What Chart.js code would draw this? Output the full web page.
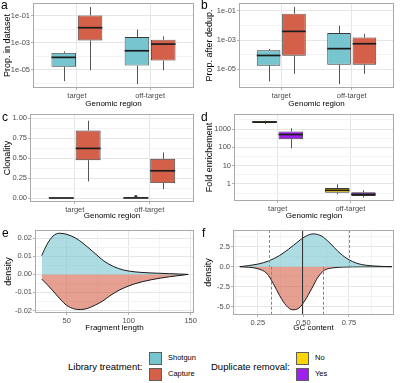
<!DOCTYPE html>
<html><head><meta charset="utf-8">
<script src="https://cdn.jsdelivr.net/npm/chart.js@4"></script>
<style>
html,body{margin:0;padding:0;background:#fff;}
#wrap{position:relative;width:400px;height:383px;overflow:hidden;font-family:"Liberation Sans",Arial,Helvetica,sans-serif;background:#fff;}
canvas{position:absolute;}
.lab{position:absolute;font-size:12px;line-height:12px;color:#000;}
.lg{position:absolute;white-space:nowrap;color:#000;}
.lt{font-size:9.5px;line-height:11px;}
.ll{font-size:7.5px;line-height:9px;}
.key{position:absolute;width:11px;height:11px;border:1px solid #5e5e5e;}
</style></head><body>
<div id="wrap">
  <canvas id="ca" width="200" height="109" style="left:0;top:0"></canvas>
  <canvas id="cb" width="200" height="109" style="left:200px;top:0"></canvas>
  <canvas id="cc" width="200" height="111" style="left:0;top:110px"></canvas>
  <canvas id="cd" width="200" height="111" style="left:200px;top:110px"></canvas>
  <canvas id="ce" width="200" height="113" style="left:0;top:220px"></canvas>
  <canvas id="cf" width="200" height="113" style="left:200px;top:220px"></canvas>

  <div class="lab" style="left:1px;top:-1px">a</div>
  <div class="lab" style="left:201px;top:-1px">b</div>
  <div class="lab" style="left:2px;top:111px">c</div>
  <div class="lab" style="left:201px;top:111px">d</div>
  <div class="lab" style="left:2px;top:227px">e</div>
  <div class="lab" style="left:202px;top:227px">f</div>

  <div class="lg lt" style="left:68px;top:361px">Library treatment:</div>
  <div class="key" style="left:149px;top:352px;background:#77C5CE"></div>
  <div class="key" style="left:149px;top:368px;background:#D4604A"></div>
  <div class="lg ll" style="left:168px;top:353px">Shotgun</div>
  <div class="lg ll" style="left:168px;top:369px">Capture</div>
  <div class="lg lt" style="left:211px;top:361px">Duplicate removal:</div>
  <div class="key" style="left:296px;top:352px;background:#FFD700"></div>
  <div class="key" style="left:296px;top:368px;background:#A020F0"></div>
  <div class="lg ll" style="left:315px;top:353px">No</div>
  <div class="lg ll" style="left:315px;top:369px">Yes</div>
</div>
<script>
// ---------------- data ----------------
const regions = ['target', 'off-target'];
const regionPos = [1, 2];
// five-number summaries per region: [lower whisker, Q1, median, Q3, upper whisker]
const aShotgun = [[1.5e-6, 1.7e-5, 8.5e-5, 1.8e-4, 2.3e-4], [9.1e-7, 2.1e-5, 2.6e-4, 2.7e-3, 9.3e-3]];
const aCapture = [[9.5e-6, 1.5e-3, 1.3e-2, 1.05e-1, 4.3e-1], [9.5e-6, 4.9e-5, 8.1e-4, 1.7e-3, 3.0e-3]];
const bShotgun = [[1.5e-6, 1.8e-5, 8.9e-5, 2.0e-4, 2.5e-4], [1.0e-6, 2.1e-5, 2.6e-4, 3.0e-3, 9.5e-3]];
const bCapture = [[5.0e-6, 8.5e-5, 3.9e-3, 6.3e-2, 1.8e-1], [5.0e-6, 2.1e-5, 5.6e-4, 1.5e-3, 2.6e-3]];
const cShotgun = [[0, 0, 0, 0, 0], [0, 0, 0.001, 0.003, 0.004]];
const cShotgunOutliers = [[], [0.017]];
const cCapture = [[0.207, 0.473, 0.62, 0.844, 0.966], [0.11, 0.186, 0.34, 0.49, 0.57]];
const dNo = [[1860, 2140, 2400, 2750, 2820], [0.27, 0.33, 0.45, 0.60, 0.95]];
const dYes = [[87, 280, 500, 740, 1100], [0.18, 0.22, 0.27, 0.35, 0.45]];

// fragment length densities (panel e)
const fragShotgunX = [29.8, 34, 39, 44, 50, 57, 64, 72, 80, 88, 96, 105, 118, 133, 148];
const fragShotgunY = [0.0104, 0.0165, 0.0213, 0.0228, 0.0222, 0.0202, 0.0168, 0.0121, 0.0074, 0.0043, 0.0024, 0.0014, 0.0008, 0.0004, 0];
const fragCaptureX = [29.8, 34, 39, 44.6, 50, 56, 61, 67, 73, 79, 85, 93, 104, 118, 133, 148];
const fragCaptureY = [-0.0026, -0.0055, -0.0092, -0.0136, -0.0172, -0.0191, -0.0195, -0.0188, -0.0170, -0.0148, -0.0118, -0.0085, -0.0054, -0.0030, -0.0013, 0];

// GC content densities (panel f)
const gcShotgunX = [0.151, 0.25, 0.31, 0.37, 0.42, 0.47, 0.51, 0.555, 0.60, 0.645, 0.69, 0.74, 0.80, 0.88, 0.985];
const gcShotgunY = [0, 0.32, 0.72, 1.4, 2.2, 3.1, 3.75, 4.08, 3.8, 2.95, 1.9, 1.0, 0.38, 0.1, 0];
const gcCaptureX = [0.151, 0.25, 0.30, 0.335, 0.37, 0.405, 0.44, 0.475, 0.51, 0.545, 0.58, 0.615, 0.66, 0.72, 0.82, 0.985];
const gcCaptureY = [0, -0.25, -0.85, -2.1, -3.6, -4.8, -5.35, -5.15, -4.15, -2.75, -1.3, -0.45, -0.15, -0.05, -0.01, 0];
const gcShotgunLines = [0.312, 0.75];
const gcCaptureLines = [0.321, 0.609];
const gcMeanLine = [0.49];

// tick values / labels
const propTicks = [1e-5, 1e-3, 1e-1];
const propLabels = ['1e-05', '1e-03', '1e-01'];
const propMinor = [1e-6, 1e-4, 1e-2];
const clonTicks = [0, 0.25, 0.5, 0.75, 1];
const clonLabels = ['0.00', '0.25', '0.50', '0.75', '1.00'];
const clonMinor = [0.125, 0.375, 0.625, 0.875];
const foldTicks = [1, 10, 100, 1000];
const foldLabels = ['1', '10', '100', '1000'];
const foldMinor = [0.316, 3.16, 31.6, 316, 3162];
const fragTicks = [50, 100, 150];
const fragLabels = ['50', '100', '150'];
const fragMinor = [25, 75, 125];
const densETicks = [-0.02, -0.01, 0, 0.01, 0.02];
const densELabels = ['-0.02', '-0.01', '0.00', '0.01', '0.02'];
const densEMinor = [-0.015, -0.005, 0.005, 0.015];
const gcTicks = [0.25, 0.5, 0.75];
const gcLabels = ['0.25', '0.50', '0.75'];
const gcMinor = [0.125, 0.375, 0.625, 0.875];
const densFTicks = [-5, -2.5, 0, 2.5];
const densFLabels = ['-5.0', '-2.5', '0.0', '2.5'];
const densFMinor = [-3.75, -1.25, 1.25, 3.75];

// ---------------- styling ----------------
const FONT = "'Liberation Sans', Arial, Helvetica, sans-serif";
const SHOTGUN = '#77C5CE', CAPTURE = '#D4604A', NO_COL = '#FFD700', YES_COL = '#A020F0';
const SHOTGUN_FILL = 'rgba(119,197,206,0.6)', CAPTURE_FILL = 'rgba(212,96,74,0.6)';
const MAJOR_GRID = '#e6e6e6', MINOR_GRID = '#f3f3f3', TICK_MARK = '#b3b3b3', TICK_TEXT = '#4d4d4d';
Chart.defaults.font.family = FONT;

function makeAxis(o) {
  const majors = o.ticks, labels = o.labels, minors = o.minor || [];
  return {
    type: o.type, position: o.position, min: o.min, max: o.max, bounds: 'data', offset: false,
    afterBuildTicks(scale) {
      scale.ticks = majors.map(v => ({value: v}))
        .concat(minors.map(v => ({value: v, minorLine: true})))
        .sort((p, q) => p.value - q.value);
    },
    afterFit(scale) {
      if (o.position === 'left') scale.width = o.size; else scale.height = o.size;
      scale.paddingTop = 0; scale.paddingBottom = 0; scale.paddingLeft = 0; scale.paddingRight = 0;
    },
    grid: {
      offset: false, drawTicks: true, tickLength: 2, lineWidth: 1,
      color: c => (c.tick && c.tick.minorLine) ? MINOR_GRID : MAJOR_GRID,
      tickColor: c => (c.tick && c.tick.minorLine) ? 'rgba(0,0,0,0)' : TICK_MARK
    },
    border: {display: false},
    ticks: {
      autoSkip: false, maxRotation: 0, minRotation: 0, padding: 1, color: TICK_TEXT,
      font: {family: FONT, size: 7.5},
      callback: v => { const i = majors.indexOf(v); return i >= 0 ? labels[i] : ''; }
    },
    title: {display: true, text: o.title, color: '#000', font: {family: FONT, size: o.titleSize}, padding: o.titlePad}
  };
}

const borderPlugin = {
  id: 'panelBorder',
  afterDraw(chart) {
    const a = chart.chartArea, ctx = chart.ctx;
    ctx.save();
    ctx.strokeStyle = '#a9a9a9'; ctx.lineWidth = 1;
    ctx.strokeRect(Math.round(a.left) + 0.5, Math.round(a.top) + 0.5,
      Math.round(a.right - a.left) - 1, Math.round(a.bottom - a.top) - 1);
    ctx.restore();
  }
};

const boxPlugin = {
  id: 'boxWhiskers',
  beforeDatasetsDraw(chart) {
    const y = chart.scales.y, ctx = chart.ctx;
    chart.data.datasets.forEach((ds, di) => {
      chart.getDatasetMeta(di).data.forEach((el, j) => {
        const st = ds.stats[j];
        const x = Math.round(el.x) + 0.5;
        ctx.save();
        ctx.strokeStyle = '#555'; ctx.lineWidth = 1;
        ctx.beginPath();
        ctx.moveTo(x, y.getPixelForValue(st[4])); ctx.lineTo(x, y.getPixelForValue(st[3]));
        ctx.moveTo(x, y.getPixelForValue(st[1])); ctx.lineTo(x, y.getPixelForValue(st[0]));
        ctx.stroke();
        ctx.restore();
      });
    });
  },
  afterDatasetsDraw(chart) {
    const y = chart.scales.y, ctx = chart.ctx;
    chart.data.datasets.forEach((ds, di) => {
      chart.getDatasetMeta(di).data.forEach((el, j) => {
        const st = ds.stats[j];
        const py = y.getPixelForValue(st[2]);
        ctx.save();
        ctx.strokeStyle = '#1c1c1c'; ctx.lineWidth = 1.7;
        ctx.beginPath();
        ctx.moveTo(el.x - el.width / 2, py); ctx.lineTo(el.x + el.width / 2, py);
        ctx.stroke();
        (ds.outliers[j] || []).forEach(v => {
          ctx.fillStyle = '#333';
          ctx.beginPath(); ctx.arc(el.x, y.getPixelForValue(v), 1.6, 0, Math.PI * 2); ctx.fill();
        });
        ctx.restore();
      });
    });
  }
};

const vlinePlugin = {
  id: 'vlines',
  afterDatasetsDraw(chart, args, opts) {
    const x = chart.scales.x, y = chart.scales.y, a = chart.chartArea, ctx = chart.ctx;
    (opts.lines || []).forEach(l => {
      l.values.forEach(v => {
        const px = Math.round(x.getPixelForValue(v)) + 0.5;
        const zero = y.getPixelForValue(0);
        const y0 = l.span === 'down' ? zero : a.top;
        const y1 = l.span === 'up' ? zero : a.bottom;
        ctx.save();
        ctx.strokeStyle = l.color; ctx.lineWidth = 1; ctx.setLineDash(l.dash || []);
        ctx.beginPath(); ctx.moveTo(px, y0); ctx.lineTo(px, y1); ctx.stroke();
        ctx.restore();
      });
    });
  }
};

function boxChart(id, cfg) {
  new Chart(document.getElementById(id), {
    type: 'bar',
    data: {
      datasets: cfg.series.map(s => ({
        data: s.stats.map((st, i) => ({x: regionPos[i], y: [st[1], st[3]]})),
        stats: s.stats, outliers: s.outliers || [[], []],
        backgroundColor: s.color, borderColor: '#3a3a3a', borderWidth: 0.9, borderSkipped: false,
        categoryPercentage: 0.72, barPercentage: 0.93
      }))
    },
    options: {
      responsive: false, animation: false, events: [],
      layout: {padding: {left: 0, top: cfg.top, right: 6, bottom: 0}},
      plugins: {legend: {display: false}, tooltip: {enabled: false}},
      scales: {
        x: makeAxis({type: 'linear', position: 'bottom', min: 0.4, max: 2.6, ticks: regionPos, labels: regions,
          size: cfg.xh, title: 'Genomic region', titleSize: 8, titlePad: {top: 0, bottom: 0}}),
        y: makeAxis({type: cfg.ytype, position: 'left', min: cfg.ymin, max: cfg.ymax, ticks: cfg.yticks,
          labels: cfg.ylabels, minor: cfg.yminor, size: cfg.yw, title: cfg.ytitle, titleSize: 9,
          titlePad: {top: cfg.ytp, bottom: 0}})
      }
    },
    plugins: [boxPlugin, borderPlugin]
  });
}

function densityChart(id, cfg) {
  new Chart(document.getElementById(id), {
    type: 'line',
    data: {
      datasets: cfg.series.map(s => ({
        data: s.x.map((xv, i) => ({x: xv, y: s.y[i]})),
        borderColor: '#1a1a1a', borderWidth: 1, backgroundColor: s.fill, fill: 'origin',
        pointRadius: 0, cubicInterpolationMode: 'monotone'
      }))
    },
    options: {
      responsive: false, animation: false, events: [],
      layout: {padding: {left: 0, top: 10, right: 6, bottom: 0}},
      plugins: {legend: {display: false}, tooltip: {enabled: false}, vlines: {lines: cfg.vlines || []}},
      scales: {
        x: makeAxis({type: 'linear', position: 'bottom', min: cfg.xmin, max: cfg.xmax, ticks: cfg.xticks,
          labels: cfg.xlabels, minor: cfg.xminor, size: cfg.xh, title: cfg.xtitle, titleSize: 8,
          titlePad: {top: 0, bottom: 0}}),
        y: makeAxis({type: 'linear', position: 'left', min: cfg.ymin, max: cfg.ymax, ticks: cfg.yticks,
          labels: cfg.ylabels, minor: cfg.yminor, size: cfg.yw, title: 'density', titleSize: 9,
          titlePad: {top: cfg.ytp, bottom: 0}})
      }
    },
    plugins: [vlinePlugin, borderPlugin]
  });
}

boxChart('ca', {series: [{stats: aShotgun, color: SHOTGUN}, {stats: aCapture, color: CAPTURE}],
  ytype: 'logarithmic', ymin: 4.7e-7, ymax: 0.86, yticks: propTicks, ylabels: propLabels, yminor: propMinor,
  ytitle: 'Prop. in dataset', yw: 33, ytp: 2, top: 3, xh: 21});
boxChart('cb', {series: [{stats: bShotgun, color: SHOTGUN}, {stats: bCapture, color: CAPTURE}],
  ytype: 'logarithmic', ymin: 5.4e-7, ymax: 0.335, yticks: propTicks, ylabels: propLabels, yminor: propMinor,
  ytitle: 'Prop. after dedup.', yw: 39, ytp: 4, top: 3, xh: 21});
boxChart('cc', {series: [{stats: cShotgun, color: SHOTGUN, outliers: cShotgunOutliers}, {stats: cCapture, color: CAPTURE}],
  ytype: 'linear', ymin: -0.05, ymax: 1.05, yticks: clonTicks, ylabels: clonLabels, yminor: clonMinor,
  ytitle: 'Clonality', yw: 30, ytp: 2, top: 4, xh: 19});
boxChart('cd', {series: [{stats: dNo, color: NO_COL}, {stats: dYes, color: YES_COL}],
  ytype: 'logarithmic', ymin: 0.117, ymax: 6600, yticks: foldTicks, ylabels: foldLabels, yminor: foldMinor,
  ytitle: 'Fold enrichement', yw: 34, ytp: 4, top: 4, xh: 20});

densityChart('ce', {
  series: [{x: fragShotgunX, y: fragShotgunY, fill: SHOTGUN_FILL}, {x: fragCaptureX, y: fragCaptureY, fill: CAPTURE_FILL}],
  xmin: 24.4, xmax: 152.7, xticks: fragTicks, xlabels: fragLabels, xminor: fragMinor, xtitle: 'Fragment length', xh: 20,
  ymin: -0.0214, ymax: 0.0246, yticks: densETicks, ylabels: densELabels, yminor: densEMinor, yw: 35, ytp: 3.5});
densityChart('cf', {
  series: [{x: gcShotgunX, y: gcShotgunY, fill: SHOTGUN_FILL}, {x: gcCaptureX, y: gcCaptureY, fill: CAPTURE_FILL}],
  xmin: 0.114, xmax: 0.997, xticks: gcTicks, xlabels: gcLabels, xminor: gcMinor, xtitle: 'GC content', xh: 18,
  ymin: -6.0, ymax: 4.56, yticks: densFTicks, ylabels: densFLabels, yminor: densFMinor, yw: 33, ytp: 3.5,
  vlines: [
    {values: gcShotgunLines, span: 'up', color: '#5a9fa8', dash: [3, 2]},
    {values: gcCaptureLines, span: 'down', color: '#b86f63', dash: [3, 2]},
    {values: gcMeanLine, span: 'full', color: '#333333'}
  ]});
</script>
</body></html>
